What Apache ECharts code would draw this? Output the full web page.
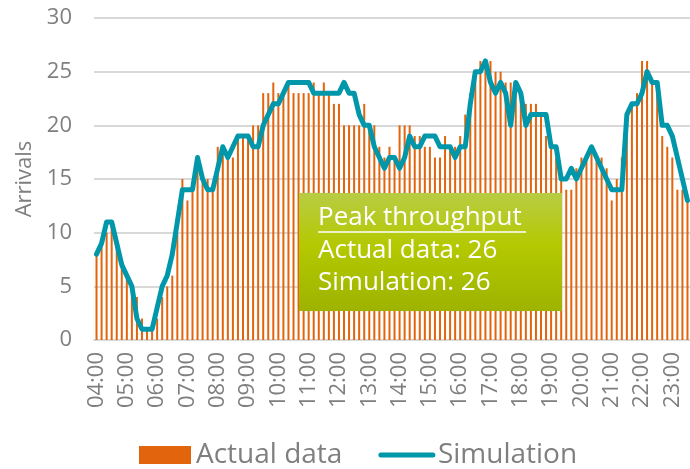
<html>
<head>
<meta charset="utf-8">
<title>Arrivals</title>
<script src="https://cdn.jsdelivr.net/npm/echarts@6/dist/echarts.min.js"></script>
<style>
  html, body { margin: 0; padding: 0; background: #fff; }
  #container { width: 690px; height: 469px; }
</style>
</head>
<body>
<div id="container"></div>
<script type="text/javascript">
// 10 minute slots 04:00 .. 23:30
var times = [];
for (var h = 4; h <= 23; h++) {
  for (var m = 0; m < 60; m += 10) {
    if (h === 23 && m > 30) break;
    times.push((h < 10 ? '0' + h : '' + h) + ':' + (m === 0 ? '00' : m));
  }
}

var actualData = [
  8, 9, 10, 11, 9, 7, 6, 5, 4, 2, 1, 1, 2, 4, 5, 6, 10, 15, 13, 14, 16, 15, 15,
  14, 18, 18, 17, 17, 19, 19, 19, 20, 20, 23, 23, 24, 23, 23, 24, 23, 23, 23, 23, 24, 23, 24, 23,
  22, 22, 20, 20, 20, 20, 22, 20, 20, 18, 17, 18, 17, 20, 20, 20, 19, 19, 18, 18, 17, 17, 19,
  18, 18, 19, 21, 23, 25, 26, 26, 26, 25, 25, 24, 24, 24, 23, 22, 22, 22, 21, 19, 18, 17, 15,
  14, 14, 16, 17, 17, 18, 17, 17, 16, 13, 15, 17, 20, 22, 23, 26, 26, 24, 24, 19, 18, 17, 14, 14, 13
];

var simulation = [
  8, 9, 11, 11, 9, 7, 6, 5, 2, 1, 1, 1, 3, 5, 6, 8, 11, 14, 14, 14, 17, 15, 14,
  14, 16, 18, 17, 18, 19, 19, 19, 18, 18, 20, 21, 22, 22, 23, 24, 24, 24, 24, 24, 23, 23, 23, 23,
  23, 23, 24, 23, 23, 21, 20, 20, 18, 17, 16, 17, 17, 16, 17, 19, 18, 18, 19, 19, 19, 18, 18,
  18, 17, 18, 18, 22, 25, 25, 26, 24, 23, 24, 23, 20, 24, 23, 20, 21, 21, 21, 21, 18, 18, 15,
  15, 16, 15, 16, 17, 18, 17, 16, 15, 14, 14, 14, 21, 22, 22, 23, 25, 24, 24, 20, 20, 19, 17, 15, 13
];

var yTicks = [0, 5, 10, 15, 20, 25, 30];
var boxLines = ['Peak throughput', 'Actual data: 26', 'Simulation: 26'];

var fontName = '"Open Sans", "DejaVu Sans", sans-serif';
var grey = '#7f7f7f';
var barColor = '#E2640C';
var lineColor = '#0097AA';

var dom = document.getElementById('container');
var myChart = echarts.init(dom);
var option = {
  animation: false,
  textStyle: { fontFamily: fontName },
  grid: { left: 94, right: 0, top: 18, bottom: 129 },
  legend: {
    left: 134,
    top: 436,
    itemWidth: 52,
    itemHeight: 18,
    itemGap: 36,
    textStyle: { fontSize: 28, color: grey, fontFamily: fontName },
    data: [
      { name: 'Actual data', icon: 'rect' },
      {
        name: 'Simulation',
        itemStyle: { opacity: 0 },
        lineStyle: { width: 5, color: lineColor, cap: 'round' }
      }
    ]
  },
  xAxis: {
    type: 'category',
    data: times,
    boundaryGap: true,
    axisTick: { show: false },
    axisLine: { lineStyle: { color: '#d9d9d9', width: 2 } },
    axisLabel: {
      interval: 5,
      rotate: 90,
      margin: 12,
      fontSize: 22,
      color: grey,
      fontFamily: fontName
    }
  },
  yAxis: {
    type: 'value',
    min: yTicks[0],
    max: yTicks[yTicks.length - 1],
    interval: 5,
    name: 'Arrivals',
    nameLocation: 'middle',
    nameGap: 58,
    nameTextStyle: { fontSize: 22, color: grey, fontFamily: fontName },
    axisLine: { show: false },
    axisTick: { show: false },
    axisLabel: { fontSize: 22, color: grey, margin: 22, fontFamily: fontName },
    splitLine: { lineStyle: { color: '#d9d9d9', width: 2 } }
  },
  series: [
    {
      name: 'Actual data',
      type: 'bar',
      data: actualData,
      barWidth: 2,
      itemStyle: { color: barColor }
    },
    {
      name: 'Simulation',
      type: 'line',
      data: simulation,
      symbol: 'none',
      showSymbol: false,
      lineStyle: { color: lineColor, width: 5, cap: 'round', join: 'round' },
      itemStyle: { color: lineColor }
    }
  ],
  graphic: [
    {
      type: 'rect',
      z: 100,
      shape: { x: 299, y: 193, width: 263, height: 118 },
      style: {
        fill: new echarts.graphic.LinearGradient(0, 0, 0, 1, [
          { offset: 0, color: '#b8cc44' },
          { offset: 0.45, color: '#b4c900' },
          { offset: 1, color: '#9db300' }
        ])
      }
    },
    {
      type: 'text', z: 101, x: 318, y: 218,
      style: { text: boxLines[0], fill: '#fff', font: '26px ' + fontName, verticalAlign: 'middle' }
    },
    {
      type: 'line', z: 101,
      shape: { x1: 318, y1: 232, x2: 526, y2: 232 },
      style: { stroke: '#fff', lineWidth: 1.5 }
    },
    {
      type: 'text', z: 101, x: 318, y: 251,
      style: { text: boxLines[1], fill: '#fff', font: '26px ' + fontName, verticalAlign: 'middle' }
    },
    {
      type: 'text', z: 101, x: 318, y: 283,
      style: { text: boxLines[2], fill: '#fff', font: '26px ' + fontName, verticalAlign: 'middle' }
    }
  ]
};
if (option && typeof option === 'object') {
  myChart.setOption(option);
}
</script>
</body>
</html>
